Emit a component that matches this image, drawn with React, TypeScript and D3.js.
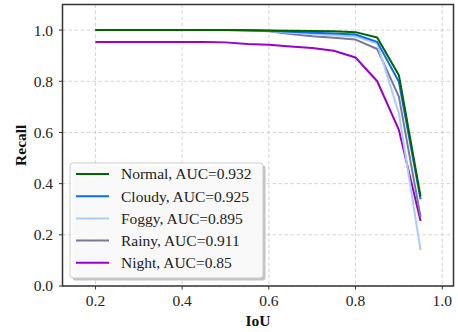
import React from "react";
import * as d3 from "d3";

const iou = [0.2, 0.25, 0.3, 0.35, 0.4, 0.45, 0.5, 0.55, 0.6, 0.65, 0.7, 0.75, 0.8, 0.85, 0.9, 0.95];
const normal = [1.0, 1.0, 1.0, 1.0, 1.0, 1.0, 1.0, 0.999, 0.998, 0.997, 0.996, 0.995, 0.992, 0.971, 0.824, 0.35];
const cloudy = [1.0, 1.0, 1.0, 1.0, 1.0, 1.0, 1.0, 0.999, 0.997, 0.994, 0.99, 0.987, 0.983, 0.954, 0.798, 0.339];
const foggy = [1.0, 1.0, 1.0, 1.0, 1.0, 1.0, 1.0, 0.999, 0.996, 0.99, 0.985, 0.98, 0.975, 0.948, 0.675, 0.14];
const rainy = [1.0, 1.0, 1.0, 1.0, 1.0, 1.0, 1.0, 0.999, 0.995, 0.985, 0.976, 0.97, 0.963, 0.926, 0.74, 0.27];
const night = [0.953, 0.953, 0.953, 0.953, 0.953, 0.953, 0.952, 0.946, 0.943, 0.936, 0.93, 0.919, 0.893, 0.8, 0.61, 0.254];
const labels = ["Normal, AUC=0.932", "Cloudy, AUC=0.925", "Foggy, AUC=0.895", "Rainy, AUC=0.911", "Night, AUC=0.85"];
const colors = ["#006400", "#0a6cf0", "#aacdf8", "#7f7597", "#9a00cc"];
const xTicks = [0.2, 0.4, 0.6, 0.8, 1.0];
const yTicks = [0.0, 0.2, 0.4, 0.6, 0.8, 1.0];

const W = 458;
const H = 332;
const m = { left: 62.5, right: 4.5, top: 4.5, bottom: 46 };

export default function App() {
  const x = d3.scaleLinear().domain([0.124, 1.026]).range([m.left, W - m.right]);
  const y = d3.scaleLinear().domain([0, 1.1]).range([H - m.bottom, m.top]);
  const series = [normal, cloudy, foggy, rainy, night];
  const line = d3
    .line<number>()
    .x((d, i) => x(iou[i]))
    .y((d) => y(d));

  const font = "'Liberation Serif', 'Times New Roman', serif";
  const legX = 70;
  const legY = 163;
  const legW = 193;
  const legH = 115;

  return (
    <div style={{ position: "fixed", left: 0, top: 0, width: W, height: H, overflow: "hidden" }}>
      <svg width={W} height={H} style={{ display: "block", background: "#fff" }} fontFamily={font}>
        {/* grid */}
        {xTicks.map((t) => (
          <line key={"gx" + t} x1={x(t)} x2={x(t)} y1={m.top} y2={H - m.bottom} stroke="#c8c8c8" strokeWidth={0.8} strokeDasharray="3.5,2.5" />
        ))}
        {yTicks.map((t) => (
          <line key={"gy" + t} x1={m.left} x2={W - m.right} y1={y(t)} y2={y(t)} stroke="#c8c8c8" strokeWidth={0.8} strokeDasharray="3.5,2.5" />
        ))}

        {/* curves, drawn night first so normal sits on top */}
        {series
          .map((s, i) => ({ s, i }))
          .reverse()
          .map(({ s, i }) => (
            <path key={i} d={line(s) || ""} fill="none" stroke={colors[i]} strokeWidth={2} strokeLinejoin="round" />
          ))}

        {/* frame */}
        <rect x={m.left} y={m.top} width={W - m.left - m.right} height={H - m.top - m.bottom} fill="none" stroke="#333" strokeWidth={1.5} />

        {/* ticks */}
        {xTicks.map((t) => (
          <g key={"tx" + t}>
            <line x1={x(t)} x2={x(t)} y1={H - m.bottom} y2={H - m.bottom + 3.5} stroke="#333" />
            <text x={x(t)} y={305.5} textAnchor="middle" fontSize={15.5} fill="#222">
              {t.toFixed(1)}
            </text>
          </g>
        ))}
        {yTicks.map((t) => (
          <g key={"ty" + t}>
            <line x1={m.left - 3.5} x2={m.left} y1={y(t)} y2={y(t)} stroke="#333" />
            <text x={53} y={y(t)} dy="0.35em" textAnchor="end" fontSize={15.5} fill="#222">
              {t.toFixed(1)}
            </text>
          </g>
        ))}

        {/* axis labels */}
        <text x={258} y={326} textAnchor="middle" fontSize={15.5} fontWeight="bold" fill="#111">
          IoU
        </text>
        <text transform={`translate(26,${(m.top + H - m.bottom) / 2}) rotate(-90)`} textAnchor="middle" fontSize={15.5} fontWeight="bold" fill="#111">
          Recall
        </text>

        {/* legend */}
        <rect x={legX + 2.5} y={legY + 2.5} width={legW} height={legH} rx={3} fill="#888" opacity={0.5} />
        <rect x={legX} y={legY} width={legW} height={legH} rx={3} fill="#fff" fillOpacity={0.9} stroke="#cccccc" strokeWidth={1} />
        {labels.map((lab, i) => {
          const yy = legY + 11 + i * 22.2;
          return (
            <g key={lab}>
              <line x1={legX + 6} x2={legX + 39} y1={yy} y2={yy} stroke={colors[i]} strokeWidth={2} />
              <text x={legX + 51} y={yy} dy="0.35em" fontSize={15.5} fill="#222">
                {lab}
              </text>
            </g>
          );
        })}
      </svg>
    </div>
  );
}
